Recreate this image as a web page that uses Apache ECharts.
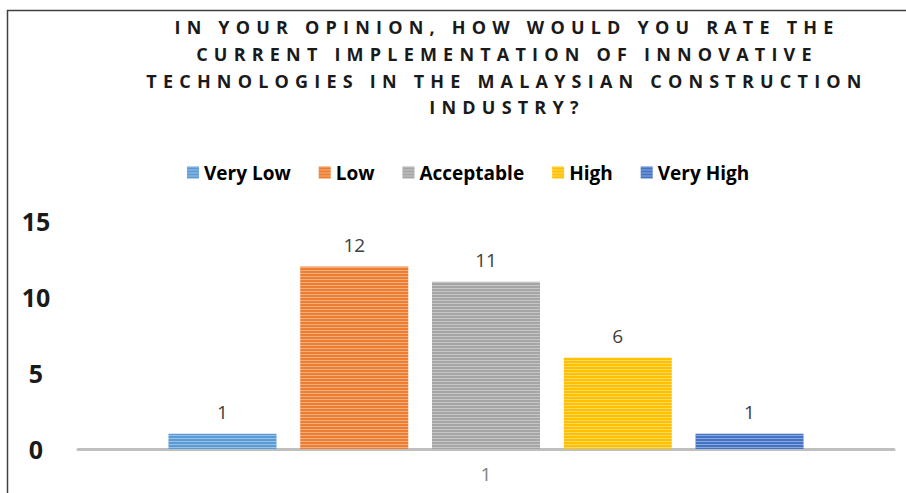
<!DOCTYPE html>
<html>
<head>
<meta charset="utf-8">
<script src="https://cdn.jsdelivr.net/npm/echarts@6/dist/echarts.min.js"></script>
<style>
html,body{margin:0;padding:0;background:#fff;}
#chart{width:906px;height:493px;}
#chart text[style*="18px"]{letter-spacing:6.2px;}
</style>
</head>
<body>
<div id="chart"></div>
<script>
const titleLines = [
  'IN YOUR OPINION, HOW WOULD YOU RATE THE',
  'CURRENT IMPLEMENTATION OF INNOVATIVE',
  'TECHNOLOGIES IN THE MALAYSIAN CONSTRUCTION',
  'INDUSTRY?'
];
const categories = ['1'];
const seriesNames = ['Very Low', 'Low', 'Acceptable', 'High', 'Very High'];
const seriesValues = [[1], [12], [11], [6], [1]];
const seriesColors = ['#5B9BD5', '#ED7D31', '#A5A5A5', '#FFC000', '#4472C4'];
const yTicks = [0, 5, 10, 15];

const chart = echarts.init(document.getElementById('chart'), null, {renderer: 'svg'});
const FONT = "'Open Sans', 'DejaVu Sans', sans-serif";

const stripe = {
  symbol: 'rect', symbolSize: 1,
  dashArrayX: [1, 0], dashArrayY: [1, 2],
  rotation: 0, color: 'rgba(255,255,255,0.38)'
};

const series = seriesNames.map((name, i) => ({
  name: name,
  type: 'bar',
  data: seriesValues[i],
  barWidth: 108,
  barGap: '22%',
  itemStyle: {color: seriesColors[i], decal: stripe},
  label: {
    show: true, position: 'top', distance: 12,
    color: '#404040', fontSize: 19, fontFamily: FONT
  }
}));

chart.setOption({
  animation: false,
  graphic: [
    {
      type: 'polyline',
      shape: {points: [[7.5, 493], [7.5, 10.5], [906, 10.5]]},
      style: {stroke: '#404040', lineWidth: 1.5, fill: null},
      silent: true
    },
    {
      type: 'text',
      x: 507, y: 14,
      style: {
        text: titleLines.join('\n'),
        textAlign: 'center', textVerticalAlign: 'top',
        fontSize: 18, fontWeight: 'bold', fontFamily: FONT,
        lineHeight: 26.7, fill: '#1a1a1a'
      }
    }
  ],
  legend: {
    data: seriesNames,
    left: 182, top: 158,
    itemWidth: 12, itemHeight: 12, itemGap: 28,
    icon: 'rect',
    textStyle: {fontSize: 19, fontWeight: 'bold', color: '#000', fontFamily: FONT}
  },
  grid: {left: 78, right: 12, top: 221, bottom: 44, containLabel: false},
  xAxis: {
    type: 'category', data: categories,
    axisLine: {lineStyle: {color: '#bfbfbf', width: 3}},
    axisTick: {show: false},
    axisLabel: {color: '#7f7f7f', fontSize: 19, fontFamily: FONT, margin: 15}
  },
  yAxis: {
    type: 'value', min: yTicks[0], max: yTicks[yTicks.length - 1], interval: 5,
    axisLine: {show: false}, axisTick: {show: false},
    splitLine: {show: false},
    axisLabel: {
      color: '#1a1a1a', fontSize: 25, fontWeight: 'bold', fontFamily: FONT,
      align: 'center', margin: 42
    }
  },
  series: series
});
</script>
</body>
</html>
